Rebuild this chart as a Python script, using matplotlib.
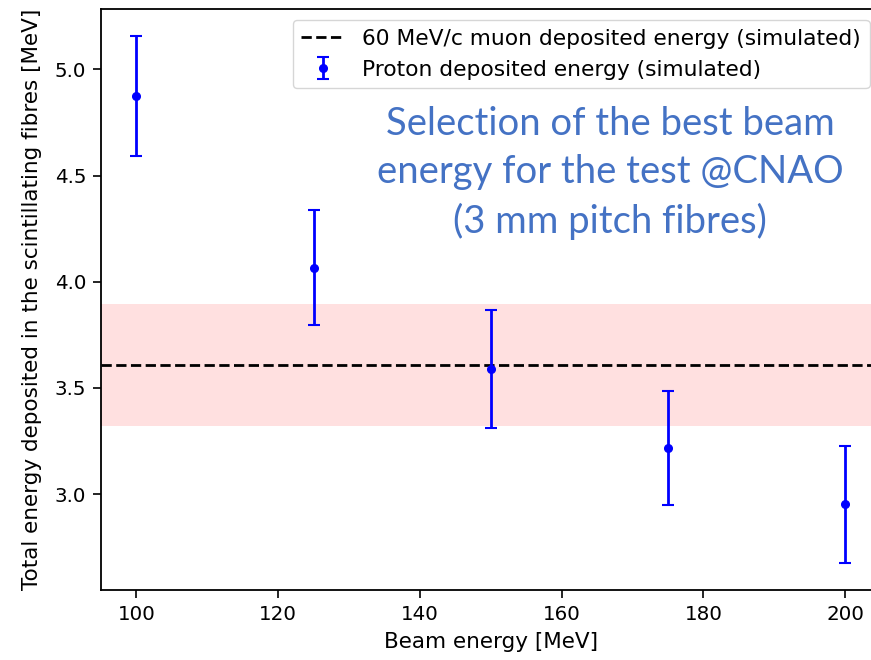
import matplotlib
matplotlib.use("Agg")
import matplotlib.pyplot as plt
import numpy as np

beam_energy = [100, 125, 150, 175, 200]
proton_edep = [4.873, 4.067, 3.590, 3.218, 2.953]
proton_err = [0.282, 0.270, 0.277, 0.270, 0.275]
muon_edep = 3.607
muon_err = 0.288

W, H = 871, 660
fig = plt.figure(figsize=(W / 100, H / 100), dpi=100)
ax = fig.add_axes([101 / W, 1 - 590 / H, (880.7 - 101) / W, (590 - 9) / H])

fs_tick = 14.3
fs = 15.5
ax.axhline(muon_edep, color="black", linestyle="--", lw=2,
           label="60 MeV/c muon deposited energy (simulated)")
ax.axhspan(muon_edep - muon_err, muon_edep + muon_err, color="red", alpha=0.12, lw=0)
ax.errorbar(beam_energy, proton_edep, yerr=proton_err, fmt="o", color="blue",
            markersize=5.5, elinewidth=2, capsize=4.5, capthick=1.5,
            label="Proton deposited energy (simulated)")

ax.set_xlabel("Beam energy [MeV]", fontsize=fs, labelpad=6)
ax.set_ylabel("Total energy deposited in the scintillating fibres [MeV]", fontsize=fs, labelpad=9)
ax.tick_params(labelsize=fs_tick, length=5.5, width=1.2, pad=5)
for s in ax.spines.values():
    s.set_linewidth(1.3)
ax.set_xticks([100, 120, 140, 160, 180, 200])
ax.set_yticks([3.0, 3.5, 4.0, 4.5, 5.0])
ax.set_xlim(95, 205)
ax.set_ylim(2.549, 5.284)

ax.legend(loc="upper right", fontsize=15.7)

fig.text(610 / W, 1 - 173 / H,
         "Selection of the best beam\nenergy for the test @CNAO\n(3 mm pitch fibres)",
         ha="center", va="center", color="#4472C4", fontsize=27.5,
         family="Lato", linespacing=1.42)

fig.savefig("out.png", dpi=100)
